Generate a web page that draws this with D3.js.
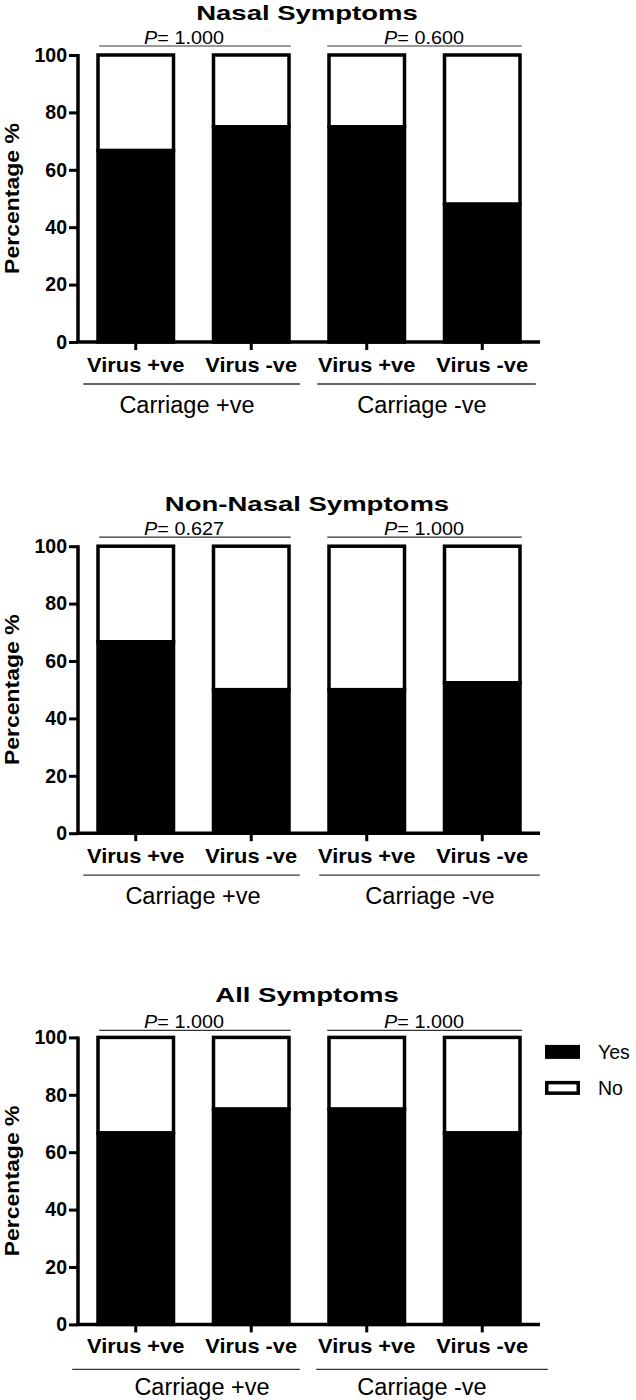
<!DOCTYPE html>
<html>
<head>
<meta charset="utf-8">
<script src="https://cdn.jsdelivr.net/npm/d3@7"></script>
<style>
  html, body { margin: 0; padding: 0; background: #fff; }
  svg { display: block; font-family: "Liberation Sans", Arial, Helvetica, sans-serif; }
</style>
</head>
<body>
<svg id="chart" width="636" height="1400"></svg>
<script>
// ---------- data ----------
const categories = ["Virus +ve", "Virus -ve", "Virus +ve", "Virus -ve"];
const groups = ["Carriage +ve", "Carriage -ve"];
const titles = ["Nasal Symptoms", "Non-Nasal Symptoms", "All Symptoms"];
const nasalYes = [66.7, 75, 75, 48];
const nonNasalYes = [66.7, 50, 50, 52.4];
const allYes = [66.7, 75, 75, 66.7];
const pNasal = ["1.000", "0.600"];
const pNonNasal = ["0.627", "1.000"];
const pAll = ["1.000", "1.000"];
const yTicks = [0, 20, 40, 60, 80, 100];
const legendLabels = ["Yes", "No"];
const yLabel = "Percentage %";

const panels = [
  { title: titles[0], yes: nasalYes, p: pNasal },
  { title: titles[1], yes: nonNasalYes, p: pNonNasal },
  { title: titles[2], yes: allYes, p: pAll }
];

// ---------- layout ----------
const svg = d3.select("#chart");
const SW = 3.5;
const axisLeft = 78, axisRight = 540;
const panelTop0 = 55, panelGap = 491.2, plotH = 287;
const panelStyle = [
  { pLineDy: -9, grp: [[-13, 9], [-10, 14]], grpY: 42, grpText: [187, 422], virusDy: 30 },
  { pLineDy: -9, grp: [[-13, 9], [-8, 18]], grpY: 42, grpText: [193, 430], virusDy: 30 },
  { pLineDy: -7, grp: [[-24, 9], [-11, 26]], grpY: 45, grpText: [202, 422], virusDy: 29 }
];
const pTextX = [184, 424];

const x = d3.scaleBand()
  .domain(d3.range(categories.length))
  .range([axisLeft, axisRight])
  .paddingInner(0.316)
  .paddingOuter(0.158);
const bw = x.bandwidth();

panels.forEach((pan, i) => {
  const top = panelTop0 + i * panelGap;
  const y = d3.scaleLinear().domain([0, 100]).range([top + plotH, top]);
  const y0 = y(0), y100 = y(100);
  const st = panelStyle[i];
  const g = svg.append("g");

  // title
  g.append("text")
    .attr("transform", `translate(307,${y100 - 35}) scale(1.31,1)`)
    .attr("text-anchor", "middle")
    .attr("font-weight", "bold")
    .attr("font-size", 21)
    .text(pan.title);

  // bars
  const bars = g.selectAll("g.bar").data(pan.yes).join("g").attr("class", "bar");
  bars.append("rect")
    .attr("x", (d, j) => x(j) + SW / 2)
    .attr("width", bw - SW)
    .attr("y", d => y(100))
    .attr("height", d => y(d) - y(100))
    .attr("fill", "#fff").attr("stroke", "#000").attr("stroke-width", SW);
  bars.append("rect")
    .attr("x", (d, j) => x(j) + SW / 2)
    .attr("width", bw - SW)
    .attr("y", d => y(d))
    .attr("height", d => y(0) - y(d))
    .attr("fill", "#000").attr("stroke", "#000").attr("stroke-width", SW);

  // y axis
  const ya = g.append("g").attr("transform", `translate(${axisLeft},0)`)
    .call(d3.axisLeft(y).tickValues(yTicks).tickSize(9).tickPadding(2));
  ya.select(".domain").attr("stroke-width", SW).attr("d", `M0,${y100 - 1}V${y0}`);
  ya.selectAll(".tick line").attr("stroke-width", 3);
  ya.selectAll(".tick text")
    .attr("font-size", 19.5).attr("font-weight", "bold")
    .attr("font-family", "Liberation Sans, Arial, sans-serif").attr("fill", "#000");

  // x axis
  const xa = g.append("g").attr("transform", `translate(0,${y0})`)
    .call(d3.axisBottom(x).tickSize(8).tickFormat(""));
  xa.select(".domain").attr("stroke-width", SW).attr("d", `M${axisLeft - 1.75},0H${axisRight}`);
  xa.selectAll(".tick line").attr("stroke-width", 3);

  // category labels
  g.selectAll("text.cat").data(categories).join("text").attr("class", "cat")
    .attr("transform", (d, j) => `translate(${x(j) + bw / 2},${y0 + st.virusDy}) scale(1.04,1)`)
    .attr("text-anchor", "middle")
    .attr("font-weight", "bold").attr("font-size", 21)
    .text(d => d);

  // group lines and labels
  groups.forEach((gr, k) => {
    const a = x(2 * k) + st.grp[k][0];
    const b = x(2 * k + 1) + bw + st.grp[k][1];
    g.append("line")
      .attr("x1", a).attr("x2", b)
      .attr("y1", y0 + st.grpY).attr("y2", y0 + st.grpY)
      .attr("stroke", "#333").attr("stroke-width", 1.3);
    g.append("text")
      .attr("x", st.grpText[k]).attr("y", y0 + 71)
      .attr("text-anchor", "middle")
      .attr("font-size", 23.5)
      .text(gr);

    // p-value bracket
    const pa = x(2 * k) + (k === 0 ? 3 : 0);
    const pb = x(2 * k + 1) + bw;
    const ly = y100 + st.pLineDy;
    g.append("line")
      .attr("x1", pa).attr("x2", pb).attr("y1", ly).attr("y2", ly)
      .attr("stroke", "#333").attr("stroke-width", 1.2);
    const t = g.append("text")
      .attr("transform", `translate(${pTextX[k]},${ly - 2.5}) scale(1.1,1)`)
      .attr("text-anchor", "middle")
      .attr("font-size", 18);
    t.append("tspan").attr("font-style", "italic").text("P");
    t.append("tspan").text("= " + pan.p[k]);
  });

  // y label
  g.append("text")
    .attr("transform", `translate(19,${(y0 + y100) / 2}) rotate(-90) scale(1.15,1)`)
    .attr("text-anchor", "middle")
    .attr("font-weight", "bold").attr("font-size", 20)
    .text(yLabel);

  // legend (only last panel)
  if (i === 2) {
    const lg = g.append("g");
    legendLabels.forEach((lab, k) => {
      const ly = y100 + 7.5 + k * 36;
      lg.append("rect")
        .attr("x", 545 + 1.75).attr("y", ly + 1.75)
        .attr("width", 35 - 3.5).attr("height", 14 - 3.5)
        .attr("fill", k === 0 ? "#000" : "#fff")
        .attr("stroke", "#000").attr("stroke-width", SW);
      lg.append("text")
        .attr("x", 598).attr("y", ly + 14)
        .attr("font-size", 19.5)
        .text(lab);
    });
  }
});
</script>
</body>
</html>
